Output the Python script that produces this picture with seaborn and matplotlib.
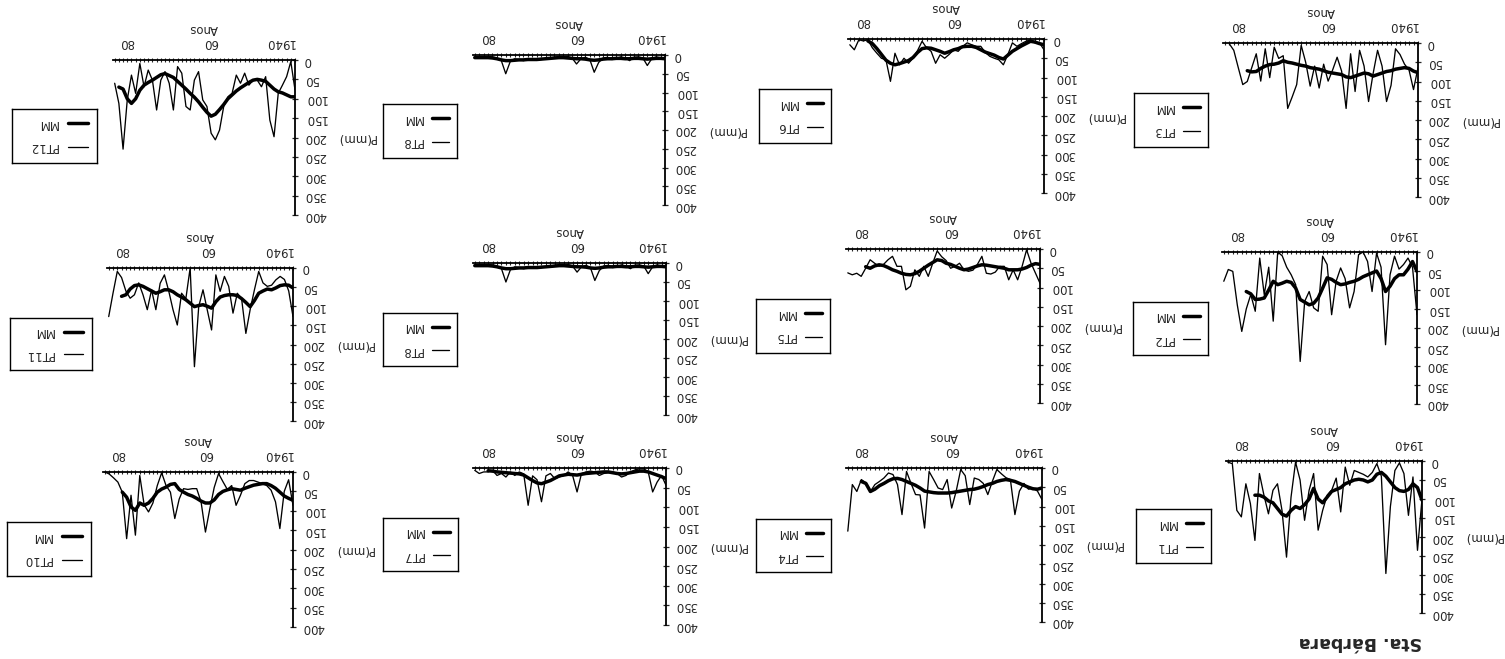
import numpy as np
import matplotlib
matplotlib.use("Agg")
import matplotlib.pyplot as plt
import seaborn as sns

nan = np.nan

# Annual precipitation (mm) per station and its moving mean (MM), 1940-1983
YEARS = list(range(1940, 1984))

PT1 = [100, 235, 42, 143, 33, 5, 25, 120, 296, 40,
       7, 30, 42, 35, 30, 25, 64, 16, 134, 45,
       77, 90, 130, 182, 33, 77, 156, 50, 3, 95,
       253, 130, 60, 77, 139, 90, 33, 209, 112, 60,
       147, 130, 7, 3]
MM1 = [103, 70, 60, 75, 80, 78, 70, 55, 40, 30,
       35, 50, 55, 50, 48, 50, 55, 60, 70, 75,
       80, 95, 110, 100, 72, 100, 115, 125, 120, 130,
       145, 140, 125, 110, 105, 95, 90, 90, nan, nan,
       nan, nan, nan, nan]

PT2 = [165, 40, 16, 33, 45, 11, 60, 244, 40, 3,
       104, 25, 0, 7, 104, 147, 70, 42, 77, 165,
       33, 11, 156, 147, 104, 130, 288, 86, 60, 40,
       10, 0, 182, 40, 112, 16, 156, 112, 150, 209,
       139, 51, 46, 77]
MM2 = [51, 25, 45, 60, 60, 70, 90, 104, 70, 50,
       55, 60, 65, 72, 77, 80, 84, 86, 80, 72,
       68, 95, 121, 135, 139, 132, 125, 95, 80, 77,
       82, 86, 77, 100, 121, 124, 125, 110, 104, nan,
       nan, nan, nan, nan]

PT3 = [64, 121, 70, 55, 30, 15, 110, 152, 60, 19,
       80, 152, 60, 19, 126, 28, 170, 73, 37, 70,
       99, 55, 117, 60, 112, 50, 6, 108, 140, 170,
       33, 40, 11, 90, 15, 99, 28, 64, 100, 108,
       64, 19, 2, nan]
MM3 = [77, 73, 66, 64, 66, 68, 72, 74, 78, 82,
       86, 80, 78, 82, 86, 90, 88, 82, 80, 78,
       76, 72, 68, 66, 64, 60, 58, 55, 52, 50,
       46, 52, 55, 56, 60, 66, 74, 75, 72, nan,
       nan, nan, nan, nan]

PT4 = [82, 60, 52, 55, 40, 60, 121, 30, 25, 15,
       4, 35, 69, 40, 30, 26, 95, 20, 4, 60,
       104, 30, 56, 52, 30, 9, 156, 70, 69, 40,
       9, 121, 43, 17, 13, 26, 35, 43, 61, 39,
       30, 61, 43, 164]
MM4 = [52, 55, 54, 50, 45, 40, 35, 32, 30, 32,
       35, 40, 43, 48, 52, 55, 56, 58, 60, 62,
       64, 65, 65, 65, 64, 62, 60, 52, 45, 40,
       35, 30, 27, 28, 33, 40, 46, 55, 61, 40,
       35, nan, nan, nan]

PT5 = [89, 63, 37, 2, 45, 80, 54, 80, 45, 45,
       60, 65, 63, 19, 40, 55, 58, 54, 37, 45,
       50, 30, 20, 5, 37, 71, 45, 71, 54, 97,
       106, 45, 45, 19, 28, 40, 45, 37, 28, 50,
       71, 63, 67, 62]
MM5 = [40, 38, 42, 48, 52, 54, 54, 54, 50, 48,
       46, 44, 42, 41, 44, 48, 52, 54, 50, 45,
       40, 37, 30, 28, 35, 42, 50, 58, 64, 67,
       66, 63, 58, 54, 48, 43, 41, 44, 50, 46,
       nan, nan, nan, nan]

PT6 = [28, 10, 10, 2, 6, 12, 19, 10, 40, 67,
       54, 50, 45, 35, 19, 19, 15, 10, 19, 32,
       28, 40, 50, 41, 63, 32, 23, 6, 30, 50,
       63, 50, 67, 37, 110, 54, 50, 37, 23, 2,
       5, 2, 28, 15]
MM6 = [15, 12, 8, 6, 12, 18, 25, 32, 42, 52,
       48, 42, 38, 34, 28, 22, 19, 19, 20, 25,
       28, 33, 37, 32, 28, 24, 23, 25, 35, 48,
       56, 60, 64, 67, 63, 55, 40, 25, 12, 5,
       nan, nan, nan, nan]

PT7 = [44, 19, 36, 61, 10, 2, 2, 5, 10, 19,
       23, 14, 10, 12, 14, 19, 10, 8, 10, 14,
       61, 19, 10, 19, 23, 27, 14, 20, 86, 30,
       20, 95, 15, 10, 19, 10, 23, 14, 19, 6,
       10, 10, 14, 6]
MM7 = [27, 22, 18, 14, 10, 8, 8, 10, 12, 14,
       15, 14, 12, 10, 10, 11, 12, 13, 14, 16,
       18, 17, 16, 18, 20, 26, 32, 36, 40, 38,
       32, 25, 18, 15, 14, 13, 12, 11, 10, 8,
       7, nan, nan, nan]

PT8 = [12, 8, 5, 10, 28, 8, 5, 6, 15, 8,
       5, 10, 12, 6, 8, 20, 46, 12, 6, 10,
       24, 8, 4, 6, 5, 6, 8, 10, 12, 14,
       10, 12, 15, 12, 10, 18, 50, 15, 8, 5,
       4, 6, 5, 8]
MM8 = [10, 9, 9, 10, 11, 10, 9, 9, 10, 10,
       9, 9, 10, 10, 11, 13, 14, 13, 11, 10,
       10, 9, 8, 7, 7, 8, 9, 10, 11, 12,
       12, 12, 13, 13, 14, 15, 15, 13, 10, 8,
       7, 7, 7, 7]

PT10 = [86, 20, 50, 146, 77, 47, 35, 30, 26, 22,
        22, 30, 60, 86, 35, 45, 25, 4, 40, 95,
        155, 77, 43, 43, 45, 43, 70, 120, 52, 35,
        2, 35, 80, 103, 85, 9, 163, 60, 172, 52,
        26, 15, 5, 0]
MM10 = [73, 68, 62, 52, 42, 35, 30, 30, 32, 34,
        38, 42, 47, 45, 43, 46, 50, 58, 72, 80,
        80, 75, 68, 62, 58, 52, 45, 30, 32, 39,
        44, 52, 68, 80, 86, 80, 99, 90, 65, 52,
        nan, nan, nan, nan]

PT11 = [127, 60, 30, 22, 31, 45, 48, 39, 9, 57,
        109, 171, 80, 66, 118, 48, 22, 61, 18, 162,
        110, 57, 101, 258, 0, 80, 66, 149, 109, 60,
        18, 40, 109, 57, 109, 70, 39, 70, 79, 60,
        25, 9, 66, 127]
MM11 = [52, 45, 44, 46, 52, 57, 55, 60, 66, 85,
        101, 90, 80, 72, 70, 70, 72, 76, 88, 105,
        100, 96, 98, 101, 92, 83, 76, 70, 62, 57,
        57, 62, 66, 60, 54, 48, 44, 46, 55, 70,
        74, nan, nan, nan]

PT12 = [77, 4, 43, 65, 86, 198, 155, 43, 69, 52,
        52, 65, 34, 60, 39, 86, 95, 120, 181, 206,
        189, 120, 103, 30, 52, 129, 120, 34, 17, 129,
        60, 30, 52, 129, 52, 26, 69, 9, 86, 39,
        103, 230, 112, 60]
MM12 = [95, 95, 90, 85, 82, 75, 65, 55, 52, 50,
        52, 58, 65, 72, 80, 90, 100, 115, 128, 140,
        145, 135, 122, 108, 96, 86, 75, 65, 55, 45,
        40, 35, 38, 45, 52, 58, 65, 78, 100, 112,
        100, 75, 70, nan]

SERIES = {
    "PT1": (PT1, MM1), "PT2": (PT2, MM2), "PT3": (PT3, MM3),
    "PT4": (PT4, MM4), "PT5": (PT5, MM5), "PT6": (PT6, MM6),
    "PT7": (PT7, MM7), "PT8": (PT8, MM8),
    "PT10": (PT10, MM10), "PT11": (PT11, MM11), "PT12": (PT12, MM12),
}

X_TICKS = [1940, 1960, 1980]
X_TICK_LABELS = ["1940", "60", "80"]
Y_TICKS = list(range(0, 401, 50))

# The page is printed upside down: every panel is laid out turned by 180 degrees.
W, H = 1505, 659
# (station, plot box [left, right, top, bottom] px, legend box [left, right, top, bottom] px)
PANELS = [
    ("PT3", (1223, 1418, 43, 197), (1134, 1208, 93, 147)),
    ("PT6", (848, 1044, 39, 193), (759, 831, 89, 143)),
    ("PT8", (473, 665, 55, 205), (383, 457, 104, 158)),
    ("PT12", (113, 295, 60, 215), (12, 97, 109, 163)),
    ("PT2", (1222, 1417, 252, 404), (1133, 1208, 302, 355)),
    ("PT5", (846, 1040, 249, 403), (756, 830, 299, 353)),
    ("PT8", (473, 666, 263, 415), (383, 457, 313, 366)),
    ("PT11", (107, 293, 268, 421), (10, 92, 318, 370)),
    ("PT1", (1226, 1422, 461, 613), (1136, 1211, 509, 563)),
    ("PT4", (846, 1042, 468, 622), (756, 831, 519, 572)),
    ("PT7", (473, 666, 468, 625), (383, 458, 518, 571)),
    ("PT10", (103, 293, 472, 627), (7, 91, 522, 576)),
]

sns.set_style("white")
plt.rcParams["font.family"] = ["DejaVu Sans"]
FS = 8.5
THIN, THICK = 0.95, 2.5


def box(l, r, t, b):
    return [l / W, 1 - b / H, (r - l) / W, (b - t) / H]


fig = plt.figure(figsize=(W / 100, H / 100), dpi=100)
fig.patch.set_facecolor("white")

for label, pbox, lbox in PANELS:
    thin, mm = SERIES[label]
    ax = fig.add_axes(box(*pbox))
    sns.lineplot(x=YEARS, y=thin, ax=ax, color="black", linewidth=THIN, legend=False)
    sns.lineplot(x=YEARS, y=mm, ax=ax, color="black", linewidth=THICK, legend=False)

    ax.set_xlim(1983.4, 1940)
    ax.set_ylim(400, 0)
    ax.set_facecolor("none")
    for side in ("left", "bottom"):
        ax.spines[side].set_visible(False)
    for side in ("top", "right"):
        ax.spines[side].set_visible(True)
        ax.spines[side].set_linewidth(1.3)
        ax.spines[side].set_color("black")

    ax.xaxis.tick_top()
    ax.yaxis.tick_right()
    ax.set_xticks(X_TICKS, labels=X_TICK_LABELS)
    ax.set_xticks(YEARS, minor=True)
    ax.set_yticks(Y_TICKS, labels=[str(v) for v in Y_TICKS])
    ax.tick_params(axis="x", which="both", direction="inout", length=3.5, width=0.8,
                   pad=6.0, labelsize=FS, labelrotation=180,
                   top=True, bottom=False, labeltop=True, labelbottom=False)
    ax.tick_params(axis="y", which="both", direction="inout", length=4, width=0.9,
                   pad=4.5, labelsize=FS, labelrotation=180,
                   right=True, left=False, labelright=True, labelleft=False)
    for t in ax.get_yticklabels():
        t.set_verticalalignment("center")
    ax.get_xticklabels()[0].set_horizontalalignment("right")

    ax.xaxis.set_label_position("top")
    ax.set_xlabel("Anos", fontsize=FS, labelpad=3, rotation=180)
    ax.set_ylabel("")
    ax.annotate("P(mm)", xy=(1, 0.5), xycoords="axes fraction",
                xytext=(30, 0), textcoords="offset points",
                rotation=180, ha="left", va="center", fontsize=FS)

    # legend box
    lax = fig.add_axes(box(*lbox))
    lax.set_xlim(0, 1)
    lax.set_ylim(0, 1)
    lax.set_xticks([])
    lax.set_yticks([])
    for s in lax.spines.values():
        s.set_visible(True)
        s.set_linewidth(1.0)
        s.set_color("black")
    lax.plot([0.66, 0.89], [0.74, 0.74], color="black", linewidth=THICK)
    lax.plot([0.66, 0.89], [0.30, 0.30], color="black", linewidth=THIN)
    lax.text(0.54, 0.74, "MM", rotation=180, ha="right", va="center", fontsize=FS)
    lax.text(0.54, 0.30, label, rotation=180, ha="right", va="center", fontsize=FS)

fig.text(1422 / W, 1 - 642 / H, "Sta. Bárbara", rotation=180, ha="right",
         va="center", fontsize=12.5, fontweight="bold")

fig.savefig("out.png", dpi=100, facecolor="white")
